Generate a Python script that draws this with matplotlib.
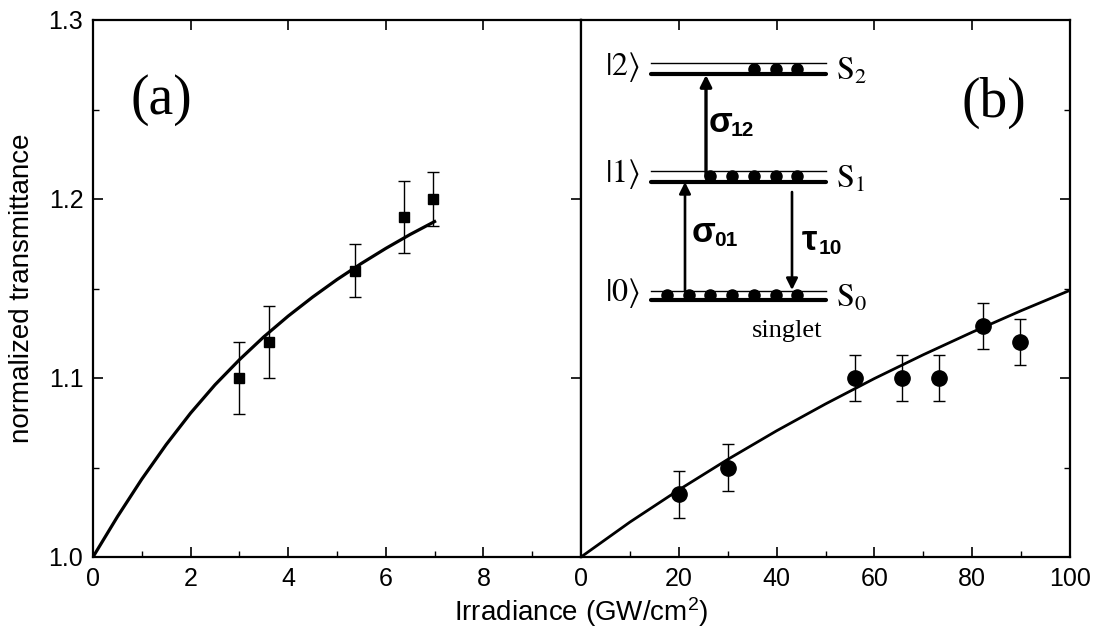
import matplotlib
matplotlib.use("Agg")
import matplotlib.pyplot as plt
from matplotlib.ticker import MultipleLocator, FormatStrFormatter

plt.rcParams["font.family"] = ["Liberation Sans", "DejaVu Sans"]
plt.rcParams["mathtext.fontset"] = "custom"
plt.rcParams["mathtext.rm"] = "Liberation Sans"
plt.rcParams["mathtext.it"] = "Liberation Sans:italic"

# panel (a): measured points and fitted curve
irr_a = [3.0, 3.6, 5.37, 6.38, 6.97]
trans_a = [1.100, 1.120, 1.160, 1.190, 1.200]
err_a = [0.020, 0.020, 0.015, 0.020, 0.015]
fit_irr_a = [0.0, 0.5, 1.0, 1.5, 2.0, 2.5, 3.0, 3.5, 4.0, 4.5, 5.0, 5.5, 6.0, 6.5, 7.0]
fit_trans_a = [1.0000, 1.0225, 1.0435, 1.0628, 1.0804, 1.0962, 1.1102, 1.1230,
               1.1346, 1.1452, 1.1550, 1.1640, 1.1724, 1.1802, 1.1874]

# panel (b): measured points and fitted curve
irr_b = [20.1, 30.0, 56.1, 65.7, 73.3, 82.3, 89.8]
trans_b = [1.035, 1.050, 1.100, 1.100, 1.100, 1.129, 1.120]
err_b = [0.013, 0.013, 0.013, 0.013, 0.013, 0.013, 0.013]
fit_irr_b = [0, 10, 20, 30, 40, 50, 60, 70, 80, 90, 100]
fit_trans_b = [1.0000, 1.0195, 1.0375, 1.0545, 1.0705, 1.0855, 1.0997, 1.1130,
               1.1256, 1.1376, 1.1490]

# energy-level sketch (populations per level, bottom to top)
levels = ["0", "1", "2"]
populations = [7, 5, 3]

fig = plt.figure(figsize=(10.93, 6.37), dpi=100)
W, H = 1093, 637
ax_a = fig.add_axes([93 / W, 80 / H, 488 / W, 537 / H])
ax_b = fig.add_axes([581 / W, 80 / H, 489 / W, 537 / H])

ax_a.errorbar(irr_a, trans_a, yerr=err_a, fmt="s", color="black", ms=7.5,
              ecolor="black", elinewidth=1, capsize=4, capthick=1)
ax_a.plot(fit_irr_a, fit_trans_a, color="black", lw=2.3, solid_joinstyle="round")

ax_b.errorbar(irr_b, trans_b, yerr=err_b, fmt="o", color="black", ms=11,
              ecolor="black", elinewidth=1, capsize=4, capthick=1)
ax_b.plot(fit_irr_b, fit_trans_b, color="black", lw=2, solid_joinstyle="round")

ax_a.set_xlim(0, 10)
ax_b.set_xlim(0, 100)
for ax in (ax_a, ax_b):
    ax.set_ylim(1.0, 1.3)
    ax.yaxis.set_major_locator(MultipleLocator(0.1))
    ax.yaxis.set_minor_locator(MultipleLocator(0.05))
    for sp in ax.spines.values():
        sp.set_linewidth(1.6)
    ax.tick_params(which="major", direction="in", length=7, width=1.2,
                   labelsize=18, top=True, pad=7)
    ax.tick_params(which="minor", direction="in", length=4, width=1, top=False)

ax_a.set_xticks([0, 2, 4, 6, 8])
ax_a.xaxis.set_minor_locator(MultipleLocator(1))
ax_a.yaxis.set_major_formatter(FormatStrFormatter("%.1f"))
ax_a.tick_params(which="major", right=True)
ax_a.tick_params(which="minor", right=False)

ax_b.set_xticks([0, 20, 40, 60, 80, 100])
ax_b.xaxis.set_minor_locator(MultipleLocator(10))
ax_b.tick_params(which="both", left=False, labelleft=False, right=True)

ax_a.set_ylabel("normalized transmittance", fontsize=20, labelpad=10)
fig.text(581 / W, 1 - 612 / H, r"Irradiance (GW/cm$^2$)", fontsize=20,
         ha="center", va="center")

# overlay in pixel units for the panel letters and the energy-level diagram
ov = fig.add_axes([0, 0, 1, 1], facecolor="none")
ov.set_xlim(0, W)
ov.set_ylim(H, 0)
ov.axis("off")

ov.text(161, 100, "(a)", family="Liberation Serif", fontsize=40, ha="center", va="center")
ov.text(994, 103, "(b)", family="Liberation Serif", fontsize=40, ha="center", va="center")

x_left, x_right = 651, 826
thin_y = [290.5, 171, 63.3]
thick_y = [300, 181.7, 74]
slot_x0, slot_dx = 667, 21.7
for i, name in enumerate(levels):
    ov.plot([x_left, x_right], [thin_y[i], thin_y[i]], color="black", lw=1)
    ov.plot([x_left, x_right], [thick_y[i], thick_y[i]], color="black", lw=3,
            solid_capstyle="round")
    n = populations[i]
    xs = [slot_x0 + slot_dx * k for k in range(7 - n, 7)]
    yd = (thin_y[i] + thick_y[i]) / 2
    ov.plot(xs, [yd] * n, "o", color="black", ms=8)
    ov.text(622, yd - 2, r"$|%s\rangle$" % name, math_fontfamily="stix",
            fontsize=23, ha="center", va="center")
    ov.text(836, yd + 3, r"$\mathrm{S}_%s$" % name, math_fontfamily="stix",
            fontsize=23, ha="left", va="center")

arrow_kw = dict(arrowstyle="-|>", color="black", shrinkA=0, shrinkB=0,
                mutation_scale=17)
ov.annotate("", xy=(706, 75), xytext=(706, 176), arrowprops=dict(lw=2.4, **arrow_kw))
ov.annotate("", xy=(685, 182), xytext=(685, 291), arrowprops=dict(lw=1.9, **arrow_kw))
ov.annotate("", xy=(792, 290), xytext=(792, 192), arrowprops=dict(lw=1.9, **arrow_kw))

for sym, sub, x, y in [("σ", "12", 709, 123), ("σ", "01", 692, 232), ("τ", "10", 802, 241)]:
    ov.text(x, y, sym, fontsize=25, fontweight="bold", ha="left", va="center")
    sub_x = x + 22 if sym == "σ" else x + 17
    ov.text(sub_x, y + 8, sub, fontsize=15, fontweight="bold", ha="left", va="center")

ov.text(787, 331, "singlet", family="Liberation Serif", fontsize=19,
        ha="center", va="center")

fig.savefig("out.png", dpi=100)
